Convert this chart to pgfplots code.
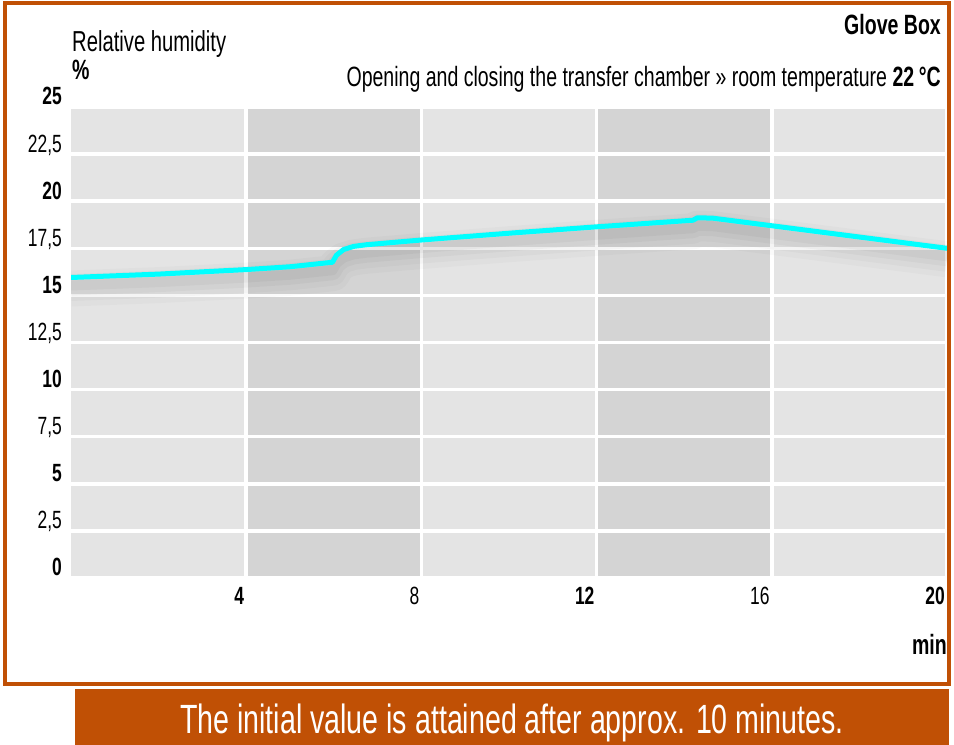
\documentclass[border=0pt]{standalone}
\usepackage{fontspec}
\setmainfont{Liberation Sans}[FakeStretch=0.7]
\usepackage{pgfplots}
\usepackage{pgfplotstable}
\pgfplotsset{compat=1.18}
\definecolor{frameor}{RGB}{192,80,5}
\definecolor{bglight}{RGB}{228,228,228}
\definecolor{bgdark}{RGB}{212,212,212}
\pgfplotstableread{
x y
0 15.95
2 16.13
4 16.37
5 16.52
5.97 16.76
6.06 17.13
6.22 17.43
6.45 17.60
6.75 17.69
8 17.94
10 18.30
12 18.64
14.2 18.99
14.3 19.12
14.65 19.10
20 17.50
}\humidity
\pgfplotsset{geom/.style={
 at={(71bp,167bp)}, anchor=south west,
 scale only axis, width=876bp, height=471bp,
 xmin=0, xmax=20, ymin=0, ymax=25}}
\begin{document}
\begin{tikzpicture}
\fill[white] (0,0) rectangle (954bp,745bp);
\begin{axis}[geom, hide axis]
\fill[bglight] (axis cs:0,0) rectangle (axis cs:20,25);
\fill[bgdark] (axis cs:4,0) rectangle (axis cs:8,25);
\fill[bgdark] (axis cs:12,0) rectangle (axis cs:16,25);
\end{axis}
\begin{axis}[
 geom,
 axis line style={draw=none},
 major tick length=0pt,
 xtick={4,8,12,16,20},
 xticklabels={\textbf{4},8,\textbf{12},16,\textbf{20}},
 ytick={0,2.5,5,7.5,10,12.5,15,17.5,20,22.5,25},
 yticklabels={\textbf{0},{2,5},\textbf{5},{7,5},\textbf{10},{12,5},\textbf{15},{17,5},\textbf{20},{22,5},\textbf{25}},
 grid=major,
 grid style={white, line width=3.5bp},
 ticklabel style={font=\fontsize{25}{25}\selectfont, inner sep=0pt},
 yticklabel style={anchor=base east, xshift=-9bp, yshift=2bp},
 xticklabel style={anchor=base east, xshift=-2bp, yshift=-27bp},
]
\addplot[black, opacity=0.02, line width=36bp, yshift=-11bp, line join=round] table {\humidity};
\addplot[black, opacity=0.025, line width=27bp, yshift=-10bp, line join=round] table {\humidity};
\addplot[black, opacity=0.03, line width=18bp, yshift=-9bp, line join=round] table {\humidity};
\addplot[black, opacity=0.03, line width=10bp, yshift=-8bp, line join=round] table {\humidity};
\addplot[color={rgb,255:red,0;green,255;blue,255}, line width=5bp, line join=round] table {\humidity};
\end{axis}
\tikzset{every node/.style={inner sep=0pt}}
\node[anchor=base east, font=\fontsize{28}{28}\selectfont\bfseries] at (941bp,710bp) {Glove Box};
\node[anchor=base east, font=\fontsize{28}{28}\selectfont] at (941bp,658bp) {Opening and closing the transfer chamber » room temperature \textbf{22\,°C}};
\node[anchor=base west, font=\fontsize{29}{29}\selectfont] at (72bp,693bp) {Relative humidity};
\node[anchor=base west, font=\fontsize{28}{28}\selectfont\bfseries] at (72bp,665bp) {\%};
\node[anchor=base east, font=\fontsize{28}{28}\selectfont\bfseries] at (947bp,90bp) {min};
\draw[frameor, line width=4bp] (5bp,741.7bp) rectangle (949bp,61.3bp);
\fill[frameor] (75bp,0) rectangle (949bp,56bp);
\node[anchor=base, text=white, font=\fontsize{41}{41}\selectfont] at (512bp,12bp) {The initial value is attained after approx. 10 minutes.};
\end{tikzpicture}
\end{document}
